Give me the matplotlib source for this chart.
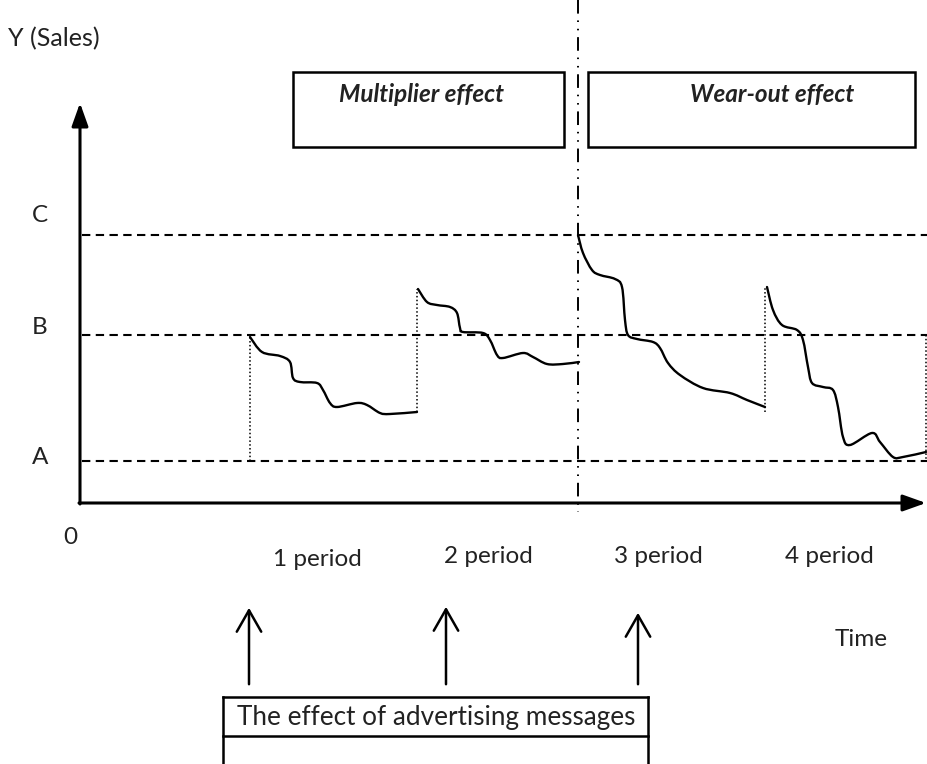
import numpy as np
import matplotlib.pyplot as plt
from matplotlib.path import Path
from matplotlib.patches import PathPatch, Rectangle, FancyArrowPatch

plt.rcParams['font.family'] = ['Lato', 'DejaVu Sans']

# canvas is laid out in pixel units, y grows downward
W, H = 928, 764

# sales levels
level_names = ['A', 'B', 'C']
level_y = [461, 335, 235]
level_label_y = [458, 327, 216]

# sales response after each advertising message (x, y)
seg1_x = [250, 262, 280, 290, 293, 300, 317, 323, 330, 337, 357, 367, 380, 390, 417]
seg1_y = [337, 352, 356, 362, 378, 382, 383, 390, 403, 407, 403, 405, 413, 414, 412]
seg2_x = [418, 427, 437, 450, 457, 460, 463, 483, 490, 497, 503, 523, 533, 547, 563, 579]
seg2_y = [289, 302, 305, 307, 313, 328, 332, 333, 340, 355, 358, 353, 357, 364, 364, 362]
seg3_x = [578, 583, 592, 600, 615, 622, 625, 628, 637, 653, 660, 668, 680, 703, 730, 747, 765]
seg3_y = [235, 253, 270, 275, 279, 287, 320, 335, 339, 342, 348, 363, 375, 388, 393, 400, 407]
seg4_x = [767, 773, 782, 797, 803, 808, 812, 823, 833, 838, 843, 850, 872, 880, 893, 903, 926]
seg4_y = [287, 310, 325, 330, 340, 367, 383, 387, 390, 407, 437, 445, 433, 442, 457, 457, 452]
segments = [(seg1_x, seg1_y), (seg2_x, seg2_y), (seg3_x, seg3_y), (seg4_x, seg4_y)]

# dotted jumps: (x, y_from, y_to)
jumps = [(250, 461, 337), (417, 412, 289), (765, 412, 287), (926, 335, 461)]

period_labels = ['1 period', '2 period', '3 period', '4 period']
period_x = [317, 488, 658, 829]
period_base = [566, 563, 563, 563]
message_x = [249, 446, 638]
message_tip = [605, 604, 610]

FS = 17.5


def smooth_path(xs, ys):
    # Catmull-Rom through the points, written as cubic Bezier pieces
    p = np.column_stack([xs, ys]).astype(float)
    verts = [p[0]]
    codes = [Path.MOVETO]
    for i in range(len(p) - 1):
        p0 = p[i - 1] if i > 0 else p[i]
        p1, p2 = p[i], p[i + 1]
        p3 = p[i + 2] if i + 2 < len(p) else p[i + 1]
        verts += [p1 + (p2 - p0) / 6, p2 - (p3 - p1) / 6, p2]
        codes += [Path.CURVE4] * 3
    return Path(verts, codes)


fig = plt.figure(figsize=(W / 100, H / 100), dpi=100)
ax = fig.add_axes([0, 0, 1, 1])
ax.set_xlim(0, W)
ax.set_ylim(H, 0)
ax.axis('off')

# axes with arrows
head = '-|>,head_length=1.4,head_width=0.5'
ax.annotate('', xy=(80, 103), xytext=(80, 504),
            arrowprops=dict(arrowstyle=head, color='black', lw=2.2,
                            shrinkA=0, shrinkB=0))
ax.annotate('', xy=(926, 503), xytext=(79, 503),
            arrowprops=dict(arrowstyle=head, color='black', lw=2.2,
                            shrinkA=0, shrinkB=0))

ax.text(8, 46, 'Y (Sales)', fontsize=18, va='baseline', ha='left', color='#222222')
ax.text(70, 538, '0', fontsize=FS, va='center', ha='center', color='#222222')
for name, y, ly in zip(level_names, level_y, level_label_y):
    ax.text(40, ly, name, fontsize=FS, va='center', ha='center', color='#222222')
    ax.plot([82, W], [y, y], color='black', lw=1.5, ls=(0, (4, 2.6)))

# boundary between multiplier and wear-out phases
ax.plot([578, 578], [0, 512], color='black', lw=1.4,
        ls=(0, (7, 3.5, 0.8, 3.5, 0.8, 3.5)))

for x, y0, y1 in jumps:
    ax.plot([x, x], [y0, y1], color='black', lw=1.1, ls=(0, (1, 1.5)))

for xs, ys in segments:
    ax.add_patch(PathPatch(smooth_path(xs, ys), fill=False, lw=1.7,
                           edgecolor='black', capstyle='round'))

# phase boxes
ax.add_patch(Rectangle((293, 72), 271, 75, fill=False, lw=1.8, edgecolor='black'))
ax.add_patch(Rectangle((588, 72), 327, 75, fill=False, lw=1.8, edgecolor='black'))
ax.text(422, 102, 'Multiplier effect', fontsize=FS, fontweight='bold',
        style='italic', ha='center', va='baseline', color='#222222')
ax.text(772, 102, 'Wear-out effect', fontsize=FS, fontweight='bold',
        style='italic', ha='center', va='baseline', color='#222222')

for lab, x, y in zip(period_labels, period_x, period_base):
    ax.text(x, y, lab, fontsize=FS, ha='center', va='baseline', color='#222222')
ax.text(861, 646, 'Time', fontsize=FS, ha='center', va='baseline', color='#222222')

for x, tip in zip(message_x, message_tip):
    ax.add_patch(FancyArrowPatch((x, 687), (x, tip),
                                 arrowstyle='->,head_length=7,head_width=4',
                                 mutation_scale=2.2, lw=1.8, color='black'))

# caption box, open at the bottom
for y in [697, 736]:
    ax.plot([223, 648], [y, y], color='black', lw=1.8, solid_capstyle='projecting')
for x in [223, 648]:
    ax.plot([x, x], [697, 764], color='black', lw=1.8)
ax.text(436, 725, 'The effect of advertising messages', fontsize=18.8,
        ha='center', va='baseline', color='#222222')

fig.savefig('out.png', dpi=100)
